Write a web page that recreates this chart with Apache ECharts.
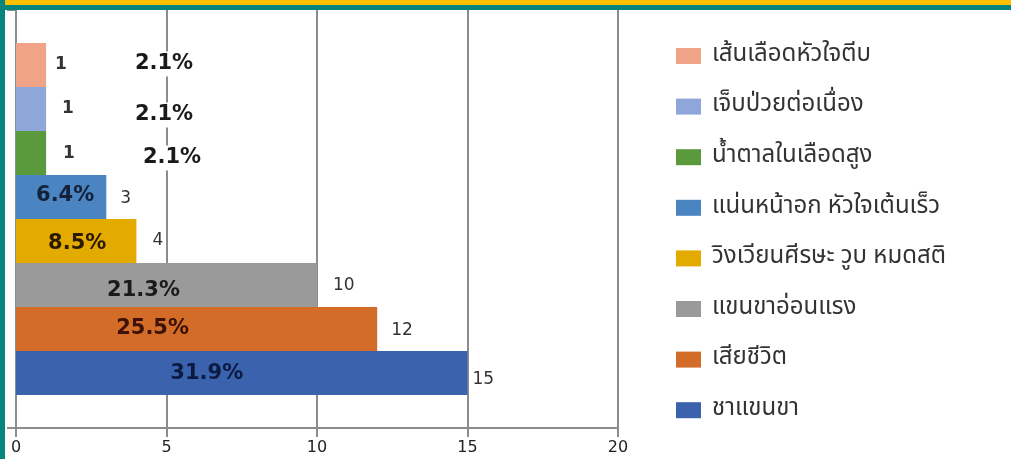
<!DOCTYPE html>
<html>
<head>
<meta charset="utf-8">
<script src="https://cdn.jsdelivr.net/npm/echarts@6/dist/echarts.min.js"></script>
<style>
  html, body { margin: 0; padding: 0; background: #fff; }
  #chart { width: 1011px; height: 459px; }
</style>
</head>
<body>
<div id="chart"></div>
<script>
// อาการ (เรียงจากบนลงล่าง ตามแท่งและ legend)
var names = ['เส้นเลือดหัวใจตีบ', 'เจ็บป่วยต่อเนื่อง', 'น้ำตาลในเลือดสูง', 'แน่นหน้าอก หัวใจเต้นเร็ว',
  'วิงเวียนศีรษะ วูบ หมดสติ', 'แขนขาอ่อนแรง', 'เสียชีวิต', 'ชาแขนขา']
// จำนวนคน
var values = [1, 1, 1, 3, 4, 10, 12, 15]
// ร้อยละ
var percents = ['2.1%', '2.1%', '2.1%', '6.4%', '8.5%', '21.3%', '25.5%', '31.9%']
var colors = ['#f0a386', '#8ea6d9', '#5b9a3c', '#4a85c1', '#e3aa00', '#9a9a9a', '#d36b29', '#3a62ad']
var xTicks = [0, 5, 10, 15, 20]

var font = '"DejaVu Sans", Verdana, sans-serif'
var thaiFont = 'Tahoma, "Noto Sans Thai", "Noto Sans", "DejaVu Sans", sans-serif'

// ตำแหน่งป้ายตัวเลข (ระยะห่างจากปลายแท่ง) และป้ายร้อยละ
var valueLabelCfg = [
  { distance: 9, offset: [0, 0], bold: true },
  { distance: 16, offset: [0, 0], bold: true },
  { distance: 17, offset: [0, 1], bold: true },
  { distance: 14, offset: [0, 2] },
  { distance: 16, offset: [0, 0] },
  { distance: 16, offset: [0, 1] },
  { distance: 14, offset: [0, 2] },
  { distance: 5, offset: [0, 7] }
]
var pctLabelCfg = [
  { position: [148, 21] },
  { position: [148, 28] },
  { position: [156, 27] },
  { position: 'inside', offset: [4, -1] },
  { position: 'inside', offset: [1, 3] },
  { position: 'inside', offset: [-23, 6] },
  { position: 'inside', offset: [-44, 0] },
  { position: 'inside', offset: [-35, 1] }
]
var pctColors = ['#1a1a1a', '#1a1a1a', '#1a1a1a', '#14213a', '#2a1a00', '#1a1a1a', '#3a1206', '#0b1a40']

var chart = echarts.init(document.getElementById('chart'))
var series = []
// แท่งจริง (แกน y ที่ 0) ซีรีส์แรกอยู่บนสุด
for (var i = 0; i < names.length; i++) {
  var vc = valueLabelCfg[i]
  series.push({
    name: names[i],
    type: 'bar',
    yAxisIndex: 0,
    barGap: 0,
    barCategoryGap: '15.8%',
    itemStyle: { color: colors[i] },
    label: {
      show: true,
      position: 'right',
      distance: vc.distance,
      offset: vc.offset,
      fontFamily: font,
      fontSize: 17,
      fontWeight: vc.bold ? 'bold' : 'normal',
      color: '#333'
    },
    data: [values[i]]
  })
}
// ชั้นป้ายร้อยละ (แกน y ที่ 1 ซ้อนทับ)
for (var j = 0; j < names.length; j++) {
  var pc = pctLabelCfg[j]
  series.push({
    name: names[j] + '%',
    type: 'bar',
    yAxisIndex: 1,
    barGap: 0,
    barCategoryGap: '15.8%',
    itemStyle: { color: 'rgba(0,0,0,0)' },
    silent: true,
    z: 5,
    label: {
      show: true,
      position: pc.position,
      offset: pc.offset || [0, 0],
      align: 'center',
      verticalAlign: 'middle',
      fontFamily: font,
      fontSize: 21,
      fontWeight: 'bold',
      color: pctColors[j],
      backgroundColor: j < 3 ? '#fff' : 'transparent',
      padding: j < 3 ? [2, 3] : 0,
      formatter: percents[j]
    },
    data: [values[j]]
  })
}

var option = {
  animation: false,
  backgroundColor: '#fff',
  graphic: [
    { type: 'rect', shape: { x: 0, y: 0, width: 1011, height: 5 }, style: { fill: '#ffc000' }, z: 100 },
    { type: 'rect', shape: { x: 0, y: 5, width: 1011, height: 5 }, style: { fill: '#05857c' }, z: 100 },
    { type: 'rect', shape: { x: 0, y: 0, width: 5, height: 459 }, style: { fill: '#05857c' }, z: 100 }
  ],
  legend: {
    orient: 'vertical',
    left: 671,
    top: 39,
    height: 420,
    itemWidth: 25,
    itemHeight: 16,
    itemGap: 26.6,
    icon: 'rect',
    data: names,
    textStyle: {
      fontFamily: thaiFont,
      fontSize: 24,
      lineHeight: 18,
      color: '#333',
      padding: [0, 0, 0, 6]
    }
  },
  grid: { left: 16, right: 393, top: 10, bottom: 31 },
  xAxis: {
    type: 'value',
    min: xTicks[0],
    max: xTicks[xTicks.length - 1],
    interval: 5,
    axisLine: { show: true, lineStyle: { color: '#8c8c8c', width: 2 } },
    axisTick: { show: true, length: 9, lineStyle: { color: '#8c8c8c', width: 2 } },
    splitLine: { show: true, lineStyle: { color: '#8c8c8c', width: 2 } },
    axisLabel: { margin: 12, fontFamily: font, fontSize: 16, color: '#222' }
  },
  yAxis: [
    {
      type: 'category',
      data: [''],
      axisLine: { show: true, lineStyle: { color: '#8c8c8c', width: 2 } },
      axisTick: { show: true, length: 9, lineStyle: { color: '#8c8c8c', width: 2 } },
      axisLabel: { show: false }
    },
    {
      type: 'category',
      data: [''],
      show: false
    }
  ],
  series: series
}
chart.setOption(option)
</script>
</body>
</html>
